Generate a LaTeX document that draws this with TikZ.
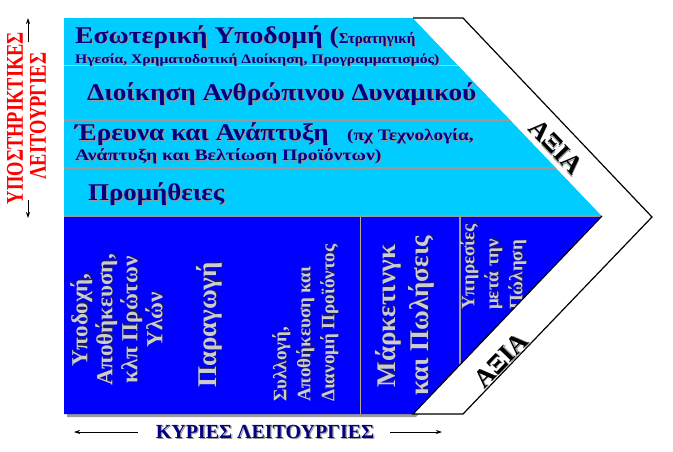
\documentclass[tikz,border=0pt]{standalone}
\usepackage{fontspec}
\setmainfont{Liberation Serif}
\usetikzlibrary{arrows.meta}
\definecolor{lblue}{HTML}{00CCFF}
\definecolor{dblue}{HTML}{0000FF}
\definecolor{navy}{HTML}{000080}
\definecolor{shgray}{HTML}{9A9A9A}
\definecolor{ltext}{HTML}{CCCCCC}
\definecolor{dshadow}{HTML}{1A1A66}
\definecolor{divgray}{HTML}{9A9A9A}
\definecolor{divtan}{HTML}{B4A890}
\newcommand\shd[2]{\makebox[0pt][l]{\hspace{1.3pt}\raisebox{-1.3pt}{\color{#1}#2}}#2}
\newcommand\hs[2]{\scalebox{#1}[1]{#2}}
\newcommand\fs[2]{\fontsize{#1}{#2}\selectfont}
\tikzset{
  up/.style={anchor=base west, text=navy, inner sep=0pt},
  col/.style={rotate=90, text=ltext, inner sep=0pt},
  divline/.style={draw=divgray, line width=1.6pt},
  bandedge/.style={draw=black, line width=1.2pt, line join=miter},
  axia/.style={font=\bfseries\fs{26}{28}, text=black, inner sep=0pt},
  redlab/.style={rotate=90, text=red, font=\bfseries\fs{24}{24}, inner sep=0pt},
  arr/.style={-{Stealth[length=6pt,width=4pt]}, line width=0.7pt},
}
\begin{document}
\begin{tikzpicture}[x=1pt,y=-1pt]
\useasboundingbox (0,0) rectangle (673,451);
% support activities area
\fill[lblue] (64,18) -- (413,18) -- (602,216) -- (64,216) -- cycle;
\draw[draw=divgray!60, line width=0.8pt] (64,65) -- (470,65);
\draw[divline] (64,120) -- (520,120);
\draw[divline] (64,168) -- (565,168);
% primary activities area
\fill[shgray] (67,219) -- (605,219) -- (416,417) -- (67,417) -- cycle;
\fill[dblue] (64,216) -- (602,216) -- (413,414) -- (64,414) -- cycle;
\draw[divline] (64,216) -- (602,216);
\draw[draw=divtan, line width=1pt] (360,217) -- (360,414);
\draw[divline] (460,217) -- (460,380);
% support texts
\node[up, font=\bfseries\fs{24}{26}] (infra) at (75,43) {\shd{shgray}{\hs{1.15}{Εσωτερική Υποδομή (}}{\fs{15}{16}\shd{shgray}{Στρατηγική}}};
\node[up, font=\bfseries\fs{13}{15}] (infrab) at (75,63) {\shd{shgray}{\hs{1.2}{Ηγεσία, Χρηματοδοτική Διοίκηση, Προγραμματισμός)}}};
\node[up, font=\bfseries\fs{24}{26}] (hrm) at (87,100) {\shd{shgray}{\hs{1.137}{Διοίκηση Ανθρώπινου Δυναμικού}}};
\node[up, font=\bfseries\fs{24}{26}] (rd) at (75,140) {\shd{shgray}{\hs{1.13}{Έρευνα και Ανάπτυξη}}};
\node[up, font=\bfseries\fs{16}{18}] (rda) at (347,140) {\shd{shgray}{\hs{1.2}{(πχ Τεχνολογία,}}};
\node[up, font=\bfseries\fs{16}{18}] (rdb) at (75,160) {\shd{shgray}{\hs{1.23}{Ανάπτυξη και Βελτίωση Προϊόντων)}}};
\node[up, font=\bfseries\fs{24}{26}] (proc) at (88,200) {\shd{shgray}{\hs{1.12}{Προμήθειες}}};
% primary texts
\node[col, align=center, font=\bfseries\fs{23}{25}] (inlog) at (117,320)
  {\shd{dshadow}{Υποδοχή,}\\\shd{dshadow}{Αποθήκευση,}\\\shd{dshadow}{κλπ Πρώτων}\\\shd{dshadow}{Υλών}};
\node[col, font=\bfseries\fs{27}{29}] (ops) at (210,325) {\shd{dshadow}{Παραγωγή}};
\node[col, anchor=west, align=left, font=\bfseries\fs{19}{24}] (outlog) at (306,402)
  {\shd{dshadow}{Συλλογή,}\\\shd{dshadow}{Αποθήκευση και}\\\shd{dshadow}{Διανομή Προϊόντος}};
\node[col, align=center, font=\bfseries\fs{27}{33}] (mkt) at (405,316)
  {\shd{dshadow}{Μάρκετινγκ}\\\shd{dshadow}{και Πωλήσεις}};
\node[col, anchor=west, align=left, font=\bfseries\fs{19}{24}] (serv) at (494,310)
  {\shd{dshadow}{Υπηρεσίες}\\\shd{dshadow}{μετά την}\\\shd{dshadow}{Πώληση}};
% value band
\fill[white] (413,18) -- (463,18) -- (652,217) -- (463,414) -- (413,414) -- (602,216) -- cycle;
\draw[bandedge] (413,18) -- (463,18) -- (652,217) -- (463,414) -- (413,414) -- (602,216);
\node[axia, rotate=-46] (valA) at (556,147) {\shd{shgray}{ΑΞΙΑ}};
\node[axia, rotate=46] (valB) at (501,361) {\shd{shgray}{ΑΞΙΑ}};
% left labels
\node[redlab] (supA) at (15,118) {\scalebox{0.77}[1]{ΥΠΟΣΤΗΡΙΚΤΙΚΕΣ}};
\node[redlab] (supB) at (38,116) {\scalebox{0.77}[1]{ΛΕΙΤΟΥΡΓΙΕΣ}};
\coordinate (uA) at (28,42);
\coordinate (uB) at (28,18);
\coordinate (dA) at (28,200);
\coordinate (dB) at (28,218);
\draw[arr] (uA) -- (uB);
\draw[arr] (dA) -- (dB);
% bottom label
\node[anchor=base, text=navy, inner sep=0pt, font=\bfseries\fs{20}{22}] (prim) at (265,438) {\shd{shgray}{ΚΥΡΙΕΣ ΛΕΙΤΟΥΡΓΙΕΣ}};
\coordinate (lA) at (138,432);
\coordinate (lB) at (74,432);
\coordinate (rA) at (390,432);
\coordinate (rB) at (442,432);
\draw[arr] (lA) -- (lB);
\draw[arr] (rA) -- (rB);
\end{tikzpicture}
\end{document}
